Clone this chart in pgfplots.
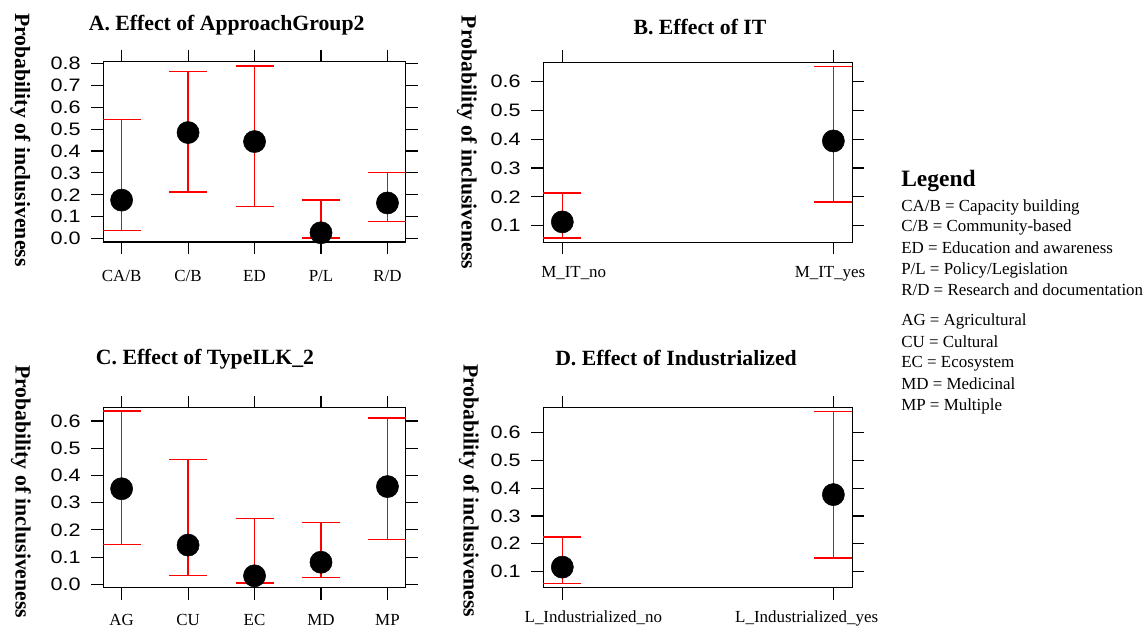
\documentclass[border=0pt]{standalone}
\usepackage{fontspec}
\setmainfont{Liberation Serif}
\newfontfamily\ticksans[FakeStretch=1.2]{Liberation Sans}
\usepackage{pgfplots}
\usepackage{pgfplotstable}
\pgfplotsset{compat=1.18}

% x = level, y = fitted probability, lo/hi = lower/upper limit
\pgfplotstableread{
x y lo hi
1 0.176 0.038 0.543
2 0.484 0.214 0.763
3 0.443 0.146 0.788
4 0.027 0.003 0.176
5 0.163 0.079 0.301
}\dataA
\pgfplotstableread{
x y lo hi
1 0.113 0.057 0.213
2 0.394 0.182 0.653
}\dataB
\pgfplotstableread{
x y lo hi
1 0.351 0.146 0.636
2 0.144 0.032 0.458
3 0.031 0.004 0.241
4 0.081 0.024 0.227
5 0.359 0.164 0.611
}\dataC
\pgfplotstableread{
x y lo hi
1 0.116 0.057 0.225
2 0.377 0.149 0.677
}\dataD

\pgfplotsset{
  effplot/.style={
    scale only axis, clip=false,
    axis line style={black, line width=0.8pt},
    tick align=outside,
    major tick length=9pt,
    major tick style={black, line width=0.8pt},
    /pgf/number format/fixed,
    /pgf/number format/fixed zerofill,
    /pgf/number format/precision=1,
    /pgf/number format/assume math mode=true,
    yticklabel shift=4.5pt,
    yticklabel style={font=\ticksans\fontsize{13.5}{16}\selectfont},
    xticklabel style={font=\fontsize{12.7}{15}\selectfont},
  },
  errs/.style={red, only marks, mark=none, forget plot,
    error bars/.cd, y dir=both, y explicit, error mark=|,
    error bar style={red, line width=1.1pt},
    error mark options={red, line width=1.1pt, mark size=14.25pt}},
  dots/.style={only marks, mark=*, mark size=8.3pt, black},
  ci/.style={errs},
}
\newcommand\ptitle{\bfseries\fontsize{16.3}{18}\selectfont}
\newcommand\ciplot[1]{\addplot[errs] table[x=x, y=y,
  y error plus expr=\thisrow{hi}-\thisrow{y},
  y error minus expr=\thisrow{y}-\thisrow{lo}] #1;
  \addplot[dots] table[x=x, y=y] #1;}

\begin{document}
\begin{tikzpicture}
\path[use as bounding box] (0,0) rectangle (859.5pt,470.25pt);

% A
\begin{axis}[effplot, at={(77.5pt,288.75pt)}, anchor=south west,
  width=226.8pt, height=135.2pt, xticklabel shift=9pt,
  xmin=0.725, xmax=5.275, ymin=-0.015, ymax=0.807,
  xtick={1,2,3,4,5}, xticklabels={CA/B, C/B, ED, P/L, R/D},
  ytick={0,0.1,...,0.8}]
\ciplot{\dataA}
\end{axis}

% B
\begin{axis}[effplot, at={(407.5pt,288.5pt)}, anchor=south west,
  width=231.75pt, height=135.2pt, xticklabel shift=5.5pt,
  xmin=0.93, xmax=2.07, ymin=0.042, ymax=0.668,
  xtick={1,2}, xticklabels={\hspace*{17.1pt}M\_IT\_no, M\_IT\_yes\hspace*{5pt}},
  ytick={0.1,0.2,...,0.6}]
\ciplot{\dataB}
\end{axis}

% C
\begin{axis}[effplot, at={(77.5pt,29.5pt)}, anchor=south west,
  width=226.8pt, height=134.8pt, xticklabel shift=7.3pt,
  xmin=0.725, xmax=5.275, ymin=-0.0125, ymax=0.648,
  xtick={1,2,3,4,5}, xticklabels={AG, CU, EC, MD, MP},
  ytick={0,0.1,...,0.6}]
\ciplot{\dataC}
\end{axis}

% D
\begin{axis}[effplot, at={(407.5pt,29.5pt)}, anchor=south west,
  width=231.75pt, height=135pt, xticklabel shift=4.8pt,
  xmin=0.93, xmax=2.07, ymin=0.042, ymax=0.69,
  xtick={1,2}, xticklabels={\hspace*{46.5pt}L\_Industrialized\_no, L\_Industrialized\_yes\hspace*{40pt}},
  ytick={0.1,0.2,...,0.6}]
\ciplot{\dataD}
\end{axis}

% titles
\node[anchor=base, inner sep=0pt, font=\ptitle] at (170pt,447.2pt) {A. Effect of ApproachGroup2};
\node[anchor=base, inner sep=0pt, font=\ptitle] at (525pt,444pt) {B. Effect of IT};
\node[anchor=base, inner sep=0pt, font=\ptitle] at (153.75pt,197pt) {C. Effect of TypeILK\_2};
\node[anchor=base, inner sep=0pt, font=\ptitle] at (507pt,195.75pt) {D. Effect of Industrialized};

% y labels
\node[rotate=-90, inner sep=0pt, font=\ptitle] at (15.4pt,365.25pt) {Probability of inclusiveness};
\node[rotate=-90, inner sep=0pt, font=\ptitle] at (350.25pt,363.4pt) {Probability of inclusiveness};
\node[rotate=-90, inner sep=0pt, font=\ptitle] at (15.75pt,101.5pt) {Probability of inclusiveness};
\node[rotate=-90, inner sep=0pt, font=\ptitle] at (351.75pt,102.15pt) {Probability of inclusiveness};

% legend
\begin{scope}[every node/.style={anchor=base west, inner sep=0pt, font=\fontsize{12.7}{15}\selectfont}]
\node[font=\bfseries\fontsize{17.6}{20}\selectfont] at (675.75pt,330.4pt) {Legend};
\node at (675.75pt,311.55pt) {CA/B = Capacity building};
\node at (675.75pt,296.55pt) {C/B = Community-based};
\node at (675.75pt,280.3pt) {ED = Education and awareness};
\node at (675.75pt,264.5pt) {P/L = Policy/Legislation};
\node at (675.75pt,248.55pt) {R/D = Research and documentation};
\node at (675.75pt,226.05pt) {AG = Agricultural};
\node at (675.75pt,209.8pt) {CU = Cultural};
\node at (675.75pt,194.25pt) {EC = Ecosystem};
\node at (675.75pt,177.75pt) {MD = Medicinal};
\node at (675.75pt,162pt) {MP = Multiple};
\end{scope}
\end{tikzpicture}
\end{document}
